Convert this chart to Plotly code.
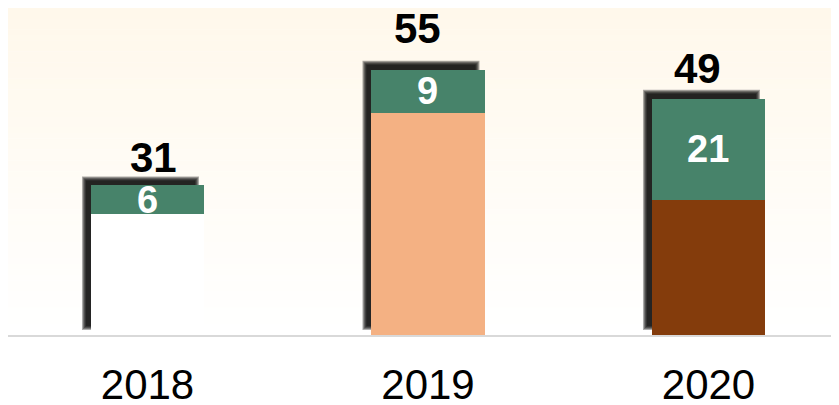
import plotly.graph_objects as go

years = ["2018", "2019", "2020"]
base_vals = [25, 46, 28]
top_vals = [6, 9, 21]
totals = [31, 55, 49]
base_colors = ["#FFFFFF", "#F4B183", "#843C0C"]
top_color = "#47836A"
total_xshift = [6, -10, -11]
total_yshift = [28, 41, 30]

W, H = 839, 405
ML, MR, MT, MB = 0, 0, 0, 78
XR = [-0.4973, 2.4938]
YR = [0, 67.8]
BAR_W = 0.403
FONT = "Arial, Liberation Sans, sans-serif"

xs = list(range(len(years)))
px_x = (W - ML - MR) / (XR[1] - XR[0])
px_y = (H - MT - MB) / (YR[1] - YR[0])

fig = go.Figure()
fig.add_trace(go.Bar(x=xs, y=base_vals, width=BAR_W, marker=dict(color=base_colors, line=dict(width=0)),
                     hoverinfo="skip"))
fig.add_trace(go.Bar(x=xs, y=top_vals, width=BAR_W, marker=dict(color=top_color, line=dict(width=0)),
                     hoverinfo="skip"))

shapes = []
# background gradient
n = 60
c0 = (255, 248, 235)
c1 = (255, 255, 255)
for i in range(n):
    t = i / (n - 1)
    c = tuple(round(c0[k] + (c1[k] - c0[k]) * t) for k in range(3))
    shapes.append(dict(type="rect", xref="paper", yref="paper", x0=0, x1=1,
                       y0=1 - (i + 1) / n, y1=1 - i / n + 0.001, fillcolor="rgb(%d,%d,%d)" % c,
                       line=dict(width=0), layer="below"))
# shadows
dx, dy = 7, 7
for i, x in enumerate(xs):
    total = totals[i]
    for e in [-2, -1, 0, 1, 2]:
        ex = e / px_x
        ey = e / px_y
        shapes.append(dict(type="rect", xref="x", yref="y",
                           x0=x - BAR_W / 2 - dx / px_x - ex, x1=x + BAR_W / 2 - dx / px_x + ex,
                           y0=0 + dy / px_y - ey, y1=total + dy / px_y + ey,
                           fillcolor="rgba(0,0,0,0.32)", line=dict(width=0), layer="below"))

annotations = []
for i, x in enumerate(xs):
    annotations.append(dict(x=x, y=totals[i], xref="x", yref="y", text=str(totals[i]),
                            showarrow=False, xshift=total_xshift[i], yshift=total_yshift[i],
                            yanchor="middle",
                            font=dict(family=FONT, size=42, color="black", weight="bold")))
    annotations.append(dict(x=x, y=base_vals[i] + top_vals[i] / 2, xref="x", yref="y",
                            text=str(top_vals[i]), showarrow=False, yanchor="middle",
                            font=dict(family=FONT, size=38, color="white", weight="bold")))

fig.update_layout(
    width=W, height=H, barmode="stack", showlegend=False,
    margin=dict(l=ML, r=MR, t=MT, b=MB, autoexpand=False),
    paper_bgcolor="white", plot_bgcolor="rgba(0,0,0,0)",
    shapes=shapes, annotations=annotations,
    xaxis=dict(range=XR, tickvals=xs, ticktext=years, showgrid=False, zeroline=False,
               showline=True, linecolor="#D9D9D9", linewidth=2, ticks="",
               automargin=False, ticklabelstandoff=12,
               tickfont=dict(family=FONT, size=42, color="black")),
    yaxis=dict(range=YR, visible=False, showgrid=False, zeroline=False, automargin=False),
)
fig.write_html("out.html")
